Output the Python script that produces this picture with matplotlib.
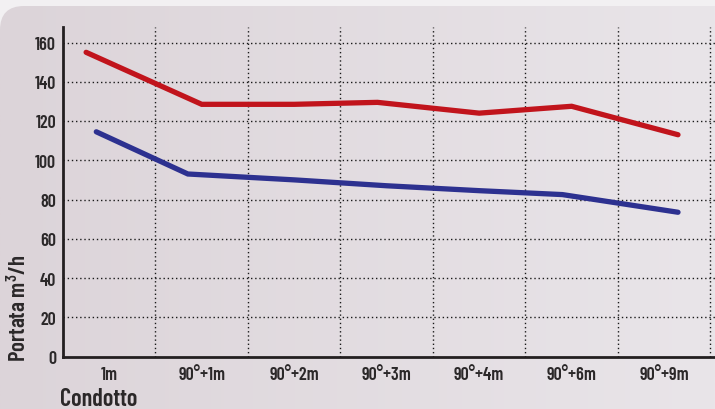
import numpy as np
import matplotlib
matplotlib.use("Agg")
import matplotlib.pyplot as plt
from matplotlib.patches import FancyBboxPatch

# dati
categorie = ["1m", "90°+1m", "90°+2m", "90°+3m", "90°+4m", "90°+6m", "90°+9m"]
x_rosso = [-0.25, 1.0, 2.0, 2.9, 4.0, 5.0, 6.15]
portata_rosso = [155, 128.5, 128.5, 129.5, 124, 127.5, 113]
x_blu = [-0.14, 0.85, 2.0, 3.0, 4.0, 4.9, 6.15]
portata_blu = [114.5, 93, 90, 87, 84.5, 82.5, 73.5]
y_ticks = [0, 20, 40, 60, 80, 100, 120, 140, 160]

plt.rcParams['font.family'] = ['Barlow Condensed', 'DejaVu Sans']
plt.rcParams['mathtext.fontset'] = 'custom'
plt.rcParams['mathtext.rm'] = 'Barlow Condensed:weight=600'
plt.rcParams['mathtext.it'] = 'Barlow Condensed:weight=600'
plt.rcParams['mathtext.bf'] = 'Barlow Condensed:weight=600'
testo = '#2b2829'

fig = plt.figure(figsize=(7.15, 4.10), dpi=100)
fig.patch.set_facecolor('#f2f0f2')

# sfondo con angolo arrotondato e sfumatura
bg = fig.add_axes([0, 0, 1, 1], zorder=-10)
bg.set_xlim(0, 715)
bg.set_ylim(410, 0)
bg.axis('off')
panel = FancyBboxPatch((0, 7), 760, 460, boxstyle="round,pad=0,rounding_size=24",
                       facecolor='none', edgecolor='none')
bg.add_patch(panel)
grad = np.linspace(0, 1, 256).reshape(1, -1)
cmap_bg = matplotlib.colors.LinearSegmentedColormap.from_list('bg', ['#dcd4d9', '#e9e5e9'])
im = bg.imshow(grad, extent=[0, 715, 410, 7], aspect='auto', cmap=cmap_bg)
im.set_clip_path(panel)

ax = fig.add_axes([63 / 715, 1 - 357.5 / 410, 1 - 63 / 715, (357.5 - 28) / 410])
ax.patch.set_alpha(0)
ax.set_xlim(-0.5, 6.55)
ax.set_ylim(0, 329.5 / (314 / 160))

for i in range(len(categorie)):
    ax.axvline(i + 0.5, color='#1a1a1a', lw=1.0, ls=(0, (1, 2)), zorder=1)
for v in y_ticks[1:]:
    ax.axhline(v, color='#1a1a1a', lw=1.0, ls=(0, (1, 2)), zorder=1)

ax.plot(x_rosso, portata_rosso, color='#c1141c', lw=3.8, solid_capstyle='round',
        solid_joinstyle='miter', zorder=3)
ax.plot(x_blu, portata_blu, color='#2d3190', lw=3.8, solid_capstyle='round',
        solid_joinstyle='miter', zorder=3)

for s in ['top', 'right']:
    ax.spines[s].set_visible(False)
for s in ['left', 'bottom']:
    ax.spines[s].set_color('#231f20')
    ax.spines[s].set_linewidth(2)

ax.set_yticks(y_ticks)
ax.set_yticklabels([str(v) for v in y_ticks], fontsize=13, fontweight=600, color=testo)
ax.set_xticks(range(len(categorie)))
ax.set_xticklabels(categorie, fontsize=13, fontweight=600, color=testo)
ax.tick_params(length=0, pad=5)
ax.tick_params(axis='x', pad=7)

fig.text(0.026, 1 - 308 / 410, 'Portata m$^3$/h', rotation=90, ha='center', va='center',
         fontsize=16.5, fontweight=600, color=testo)
fig.text(60 / 715, 1 - 400 / 410, 'Condotto', ha='left', va='center',
         fontsize=17.5, fontweight=600, color=testo)

fig.savefig('out.png', dpi=100, facecolor=fig.get_facecolor())
